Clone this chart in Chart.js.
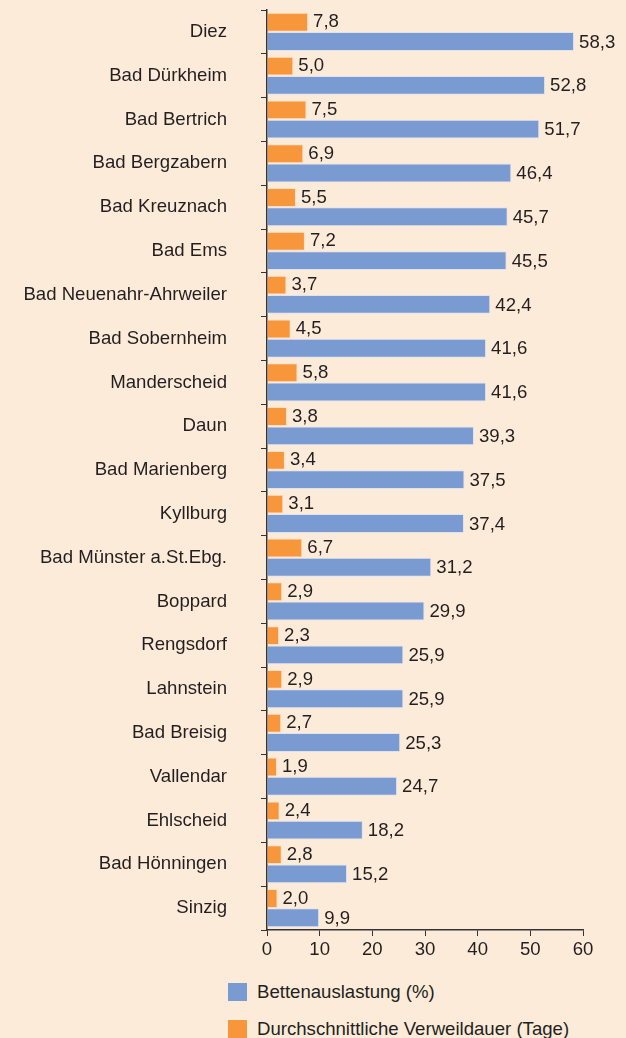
<!DOCTYPE html>
<html>
<head>
<meta charset="utf-8">
<script src="https://cdn.jsdelivr.net/npm/chart.js@4/dist/chart.umd.min.js"></script>
<style>
  html, body { margin: 0; padding: 0; background: #fdebda; }
  #wrap { position: relative; width: 626px; height: 1038px; background: #fdebda; overflow: hidden; }
  #chartBox { position: absolute; left: 0; top: 0; width: 626px; height: 960px; }
  #legend { position: absolute; left: 228px; top: 982px; font-family: "Liberation Sans", Arial, sans-serif; font-size: 18.6px; color: #231f20; }
  .item { display: flex; align-items: center; height: 20px; margin-bottom: 17px; }
  .box { width: 19px; height: 18px; margin-right: 10px; }
</style>
</head>
<body>
<div id="wrap">
  <div id="chartBox"><canvas id="myChart"></canvas></div>
  <div id="legend"></div>
</div>
<script>
const labels = [
    'Diez',
    'Bad Dürkheim',
    'Bad Bertrich',
    'Bad Bergzabern',
    'Bad Kreuznach',
    'Bad Ems',
    'Bad Neuenahr-Ahrweiler',
    'Bad Sobernheim',
    'Manderscheid',
    'Daun',
    'Bad Marienberg',
    'Kyllburg',
    'Bad Münster a.St.Ebg.',
    'Boppard',
    'Rengsdorf',
    'Lahnstein',
    'Bad Breisig',
    'Vallendar',
    'Ehlscheid',
    'Bad Hönningen',
    'Sinzig'
];

const verweildauer = [7.8, 5.0, 7.5, 6.9, 5.5, 7.2, 3.7, 4.5, 5.8, 3.8, 3.4, 3.1, 6.7, 2.9, 2.3, 2.9, 2.7, 1.9, 2.4, 2.8, 2.0];
const bettenauslastung = [58.3, 52.8, 51.7, 46.4, 45.7, 45.5, 42.4, 41.6, 41.6, 39.3, 37.5, 37.4, 31.2, 29.9, 25.9, 25.9, 25.3, 24.7, 18.2, 15.2, 9.9];

const xTicks = [0, 10, 20, 30, 40, 50, 60];

const orange = 'rgb(247, 150, 58)';
const blue = 'rgb(122, 155, 209)';
const textColor = '#231f20';
const fontFamily = '"Liberation Sans", Arial, sans-serif';

// draw value labels right of each bar
const valueLabels = {
    id: 'valueLabels',
    afterDatasetsDraw(chart) {
        const ctx = chart.ctx;
        ctx.save();
        ctx.font = '18.6px ' + fontFamily;
        ctx.fillStyle = textColor;
        ctx.textAlign = 'left';
        ctx.textBaseline = 'middle';
        chart.data.datasets.forEach((ds, i) => {
            const meta = chart.getDatasetMeta(i);
            meta.data.forEach((bar, j) => {
                const txt = ds.data[j].toFixed(1).replace('.', ',');
                ctx.fillText(txt, bar.x + 5, bar.y + (i === 0 ? 0 : 1));
            });
        });
        ctx.restore();
    }
};

const data = {
    labels: labels,
    datasets: [{
        label: 'Durchschnittliche Verweildauer (Tage)',
        backgroundColor: orange,
        borderColor: 'rgba(255, 220, 190, 0.8)',
        borderWidth: 1,
        data: verweildauer,
    }, {
        label: 'Bettenauslastung (%)',
        backgroundColor: blue,
        borderColor: 'rgba(215, 225, 245, 0.8)',
        borderWidth: 1,
        data: bettenauslastung,
    }]
};

const config = {
    type: 'bar',
    data: data,
    options: {
        indexAxis: 'y',
        responsive: true,
        maintainAspectRatio: false,
        animation: false,
        barPercentage: 0.98,
        categoryPercentage: 0.88,
        layout: { padding: { top: 10, right: 43, left: 0, bottom: 0 } },
        plugins: {
            legend: { display: false },
            tooltip: { enabled: false }
        },
        scales: {
            x: {
                min: 0,
                max: 60,
                afterBuildTicks(scale) {
                    scale.ticks = xTicks.map(v => ({ value: v }));
                },
                afterFit(scale) { scale.height = 30; },
                grid: { drawOnChartArea: false, tickLength: 6, color: '#333' },
                border: { color: '#333', width: 1.5 },
                ticks: {
                    color: textColor,
                    padding: 3,
                    maxRotation: 0,
                    font: { family: fontFamily, size: 18.6 }
                }
            },
            y: {
                afterFit(scale) {
                    scale.width = 267;
                    scale.paddingTop = 0;
                    scale.paddingBottom = 0;
                },
                grid: { drawOnChartArea: false, tickLength: 6, color: '#333', offset: true },
                border: { color: '#333', width: 1.5 },
                ticks: {
                    color: textColor,
                    padding: 34,
                    font: { family: fontFamily, size: 18.6 }
                }
            }
        }
    },
    plugins: [valueLabels]
};

const chart = new Chart(
    document.getElementById('myChart'),
    config
);

// legend: Bettenauslastung first, as in the original
const legendEl = document.getElementById('legend');
[1, 0].forEach(i => {
    const ds = chart.data.datasets[i];
    const item = document.createElement('div');
    item.className = 'item';
    const box = document.createElement('span');
    box.className = 'box';
    box.style.background = ds.backgroundColor;
    const txt = document.createElement('span');
    txt.textContent = ds.label;
    item.appendChild(box);
    item.appendChild(txt);
    legendEl.appendChild(item);
});
</script>
</body>
</html>
